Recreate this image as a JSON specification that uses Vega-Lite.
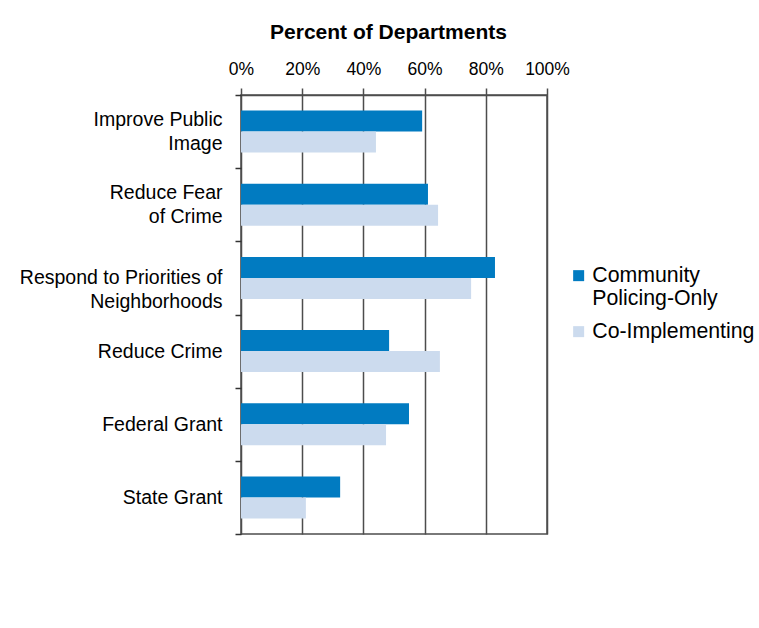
{
  "$schema": "https://vega.github.io/schema/vega-lite/v6.json",
  "width": 306,
  "height": 439,
  "autosize": {"type": "none"},
  "padding": {"left": 241, "top": 95, "right": 212, "bottom": 94},
  "background": "white",
  "config": {
    "font": "Liberation Sans",
    "view": {"stroke": "#4d4d4d", "strokeWidth": 1.5}
  },
  "data": {
    "values": [
      {"reason": "Improve Public Image", "group": "Community Policing-Only", "pct": 59.2},
      {"reason": "Improve Public Image", "group": "Co-Implementing", "pct": 44.1},
      {"reason": "Reduce Fear of Crime", "group": "Community Policing-Only", "pct": 61.1},
      {"reason": "Reduce Fear of Crime", "group": "Co-Implementing", "pct": 64.4},
      {"reason": "Respond to Priorities of Neighborhoods", "group": "Community Policing-Only", "pct": 83.0},
      {"reason": "Respond to Priorities of Neighborhoods", "group": "Co-Implementing", "pct": 75.2},
      {"reason": "Reduce Crime", "group": "Community Policing-Only", "pct": 48.4},
      {"reason": "Reduce Crime", "group": "Co-Implementing", "pct": 65.0},
      {"reason": "Federal Grant", "group": "Community Policing-Only", "pct": 54.9},
      {"reason": "Federal Grant", "group": "Co-Implementing", "pct": 47.4},
      {"reason": "State Grant", "group": "Community Policing-Only", "pct": 32.4},
      {"reason": "State Grant", "group": "Co-Implementing", "pct": 21.2}
    ]
  },
  "mark": {"type": "bar"},
  "encoding": {
    "y": {
      "field": "reason",
      "type": "nominal",
      "sort": ["Improve Public Image", "Reduce Fear of Crime", "Respond to Priorities of Neighborhoods", "Reduce Crime", "Federal Grant", "State Grant"],
      "scale": {"paddingInner": 0, "paddingOuter": 0},
      "axis": {
        "title": null,
        "orient": "left",
        "tickBand": "extent",
        "ticks": true,
        "tickSize": 6,
        "tickColor": "#333333",
        "tickWidth": 1.5,
        "domain": false,
        "labelFontSize": 19.5,
        "labelColor": "#000000",
        "labelPadding": 13,
        "labelLineHeight": 24,
        "labelLimit": 300,
        "labelOffset": {"condition": {"test": "indexof(['Improve Public Image', 'Reduce Fear of Crime'], datum.value) >= 0", "value": -12}, "value": 0},
        "labelExpr": "datum.label == 'Improve Public Image' ? ['Improve Public', 'Image'] : datum.label == 'Reduce Fear of Crime' ? ['Reduce Fear', 'of Crime'] : datum.label == 'Respond to Priorities of Neighborhoods' ? ['Respond to Priorities of', 'Neighborhoods'] : datum.label"
      }
    },
    "yOffset": {
      "field": "group",
      "type": "nominal",
      "sort": ["Community Policing-Only", "Co-Implementing"],
      "scale": {"paddingInner": 0, "paddingOuter": 0.74}
    },
    "x": {
      "field": "pct",
      "type": "quantitative",
      "scale": {"domain": [0, 100], "nice": false},
      "axis": {
        "orient": "top",
        "title": "Percent of Departments",
        "titleFontSize": 21,
        "titleFontWeight": "bold",
        "titleColor": "#000000",
        "titlePadding": 18,
        "titleX": 147,
        "values": [0, 20, 40, 60, 80, 100],
        "labelExpr": "datum.value + '%'",
        "labelFlush": false,
        "labelOverlap": false,
        "labelFontSize": 17.5,
        "labelColor": "#000000",
        "labelPadding": 10,
        "tickSize": 7,
        "tickColor": "#4d4d4d",
        "tickWidth": 1.5,
        "domainColor": "#4d4d4d",
        "domainWidth": 1.5,
        "grid": true,
        "gridColor": "#4d4d4d",
        "gridWidth": 1.5,
        "gridOpacity": 1
      }
    },
    "color": {
      "field": "group",
      "type": "nominal",
      "sort": ["Community Policing-Only", "Co-Implementing"],
      "scale": {"domain": ["Community Policing-Only", "Co-Implementing"], "range": ["#017bc1", "#ccdbee"]},
      "legend": {
        "title": null,
        "orient": "none",
        "legendX": 327,
        "legendY": 170,
        "padding": 0,
        "symbolType": "square",
        "symbolSize": 121,
        "symbolStrokeWidth": 0,
        "labelFontSize": 21.3,
        "labelColor": "#000000",
        "labelOffset": 3,
        "labelLimit": 400,
        "labelLineHeight": 23,
        "labelBaseline": "middle",
        "rowPadding": 10,
        "labelExpr": "datum.label == 'Community Policing-Only' ? ['Community', 'Policing-Only'] : datum.label"
      }
    }
  }
}
